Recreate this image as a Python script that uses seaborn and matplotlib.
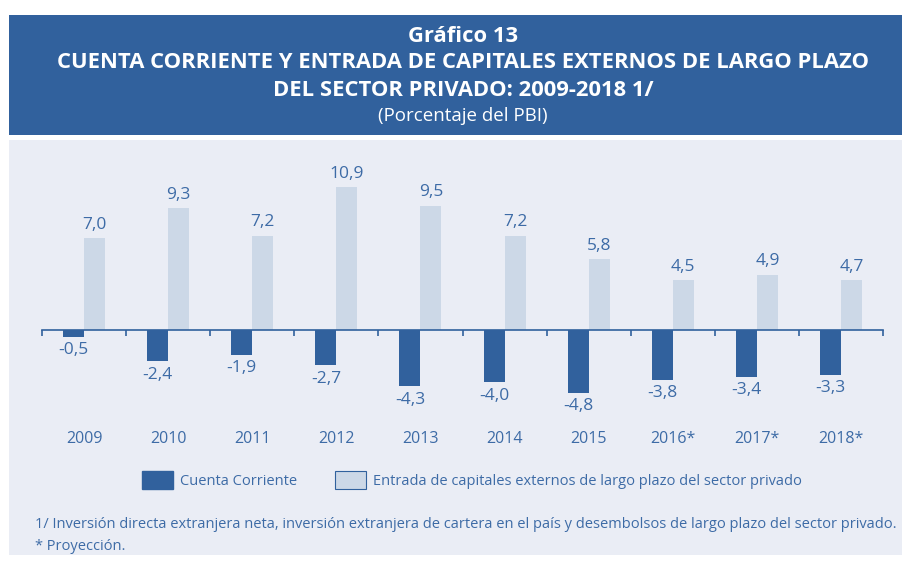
import matplotlib
matplotlib.use("Agg")
import matplotlib.pyplot as plt
from matplotlib.patches import Rectangle, Patch
import numpy as np
import pandas as pd
import seaborn as sns

years = ["2009", "2010", "2011", "2012", "2013", "2014", "2015", "2016*", "2017*", "2018*"]
# printed values
cuenta_corriente = [-0.5, -2.4, -1.9, -2.7, -4.3, -4.0, -4.8, -3.8, -3.4, -3.3]
entrada_capitales = [7.0, 9.3, 7.2, 10.9, 9.5, 7.2, 5.8, 4.5, 4.9, 4.7]
# bar heights as drawn in the original (last light bars are drawn shorter than labelled)
cuenta_corriente_barras = [-0.5, -2.4, -1.9, -2.7, -4.3, -4.0, -4.8, -3.8, -3.55, -3.4]
entrada_capitales_barras = [7.0, 9.3, 7.2, 10.9, 9.5, 7.2, 5.4, 3.8, 4.2, 3.8]
series_names = ["Cuenta Corriente",
                "Entrada de capitales externos de largo plazo del sector privado"]

DARK = "#31619d"
LIGHT = "#ccd8e7"
PANEL = "#eaedf5"
TXT = "#3d6ba6"

df = pd.DataFrame({
    "year": years * 2,
    "value": cuenta_corriente_barras + entrada_capitales_barras,
    "serie": [series_names[0]] * len(years) + [series_names[1]] * len(years),
})

sns.set_theme(style="white")
plt.rcParams["font.family"] = ["Open Sans", "DejaVu Sans"]

fig = plt.figure(figsize=(9.02, 5.64), dpi=100)
W, H = 902, 564

# header band and light panel, kept under the axes
fig.patches.append(Rectangle((9 / W, 1 - 135 / H), 1, 120 / H, transform=fig.transFigure,
                             facecolor=DARK, edgecolor="none", zorder=-10))
fig.patches.append(Rectangle((9 / W, 1 - 555 / H), 1, 415 / H, transform=fig.transFigure,
                             facecolor=PANEL, edgecolor="none", zorder=-10))

cx = 463 / W
fig.text(cx, 1 - 37 / H, "Gráfico 13", ha="center", va="center", color="white",
         fontsize=15.8, fontweight="bold")
fig.text(cx, 1 - 63 / H, "CUENTA CORRIENTE Y ENTRADA DE CAPITALES EXTERNOS DE LARGO PLAZO",
         ha="center", va="center", color="white", fontsize=15.8, fontweight="bold")
fig.text(cx, 1 - 90 / H, "DEL SECTOR PRIVADO: 2009-2018 1/", ha="center", va="center",
         color="white", fontsize=15.8, fontweight="bold")
fig.text(cx, 1 - 116 / H, "(Porcentaje del PBI)", ha="center", va="center",
         color="white", fontsize=13.5)

ax = fig.add_axes([42 / W, 1 - 421.7 / H, 841 / W, 262 / H])
ax.set_facecolor("none")

sns.barplot(data=df, x="year", y="value", hue="serie", palette=[DARK, LIGHT],
            width=0.5, saturation=1, linewidth=0, legend=False, ax=ax)

ax.set_xlim(-0.5, len(years) - 0.5)
ax.set_ylim(-7, 13)
ax.set_xlabel("")
ax.set_ylabel("")
ax.set_yticks([])
for s in ["top", "right", "left"]:
    ax.spines[s].set_visible(False)
ax.spines["bottom"].set_position(("data", 0))
ax.spines["bottom"].set_color(DARK)
ax.spines["bottom"].set_linewidth(1.2)
ax.spines["bottom"].set_zorder(3)

# year labels at category centres, small ticks at category boundaries
ax.set_xticks(np.arange(len(years)), years)
ax.set_xticks(np.arange(len(years) + 1) - 0.5, minor=True)
ax.tick_params(axis="x", which="major", length=0, pad=73, labelsize=11.5, labelcolor=TXT)
ax.tick_params(axis="x", which="minor", length=4, width=1.2, color=DARK, direction="out", bottom=True)

def fmt(v):
    return f"{v:.1f}".replace(".", ",")

for cont, vals in zip(ax.containers, [cuenta_corriente, entrada_capitales]):
    ax.bar_label(cont, labels=[fmt(v) for v in vals], padding=4,
                 color=TXT, fontsize=12.5)

handles = [Patch(facecolor=DARK, edgecolor=DARK), Patch(facecolor=LIGHT, edgecolor=DARK, linewidth=0.8)]
fig.legend(handles, series_names, loc="center", bbox_to_anchor=(472 / W, 1 - 480 / H),
           ncol=2, frameon=False, fontsize=10.5, labelcolor=TXT, handlelength=2.1,
           handleheight=1.5, handletextpad=0.5, columnspacing=2.6)

fig.text(35 / W, 1 - 525 / H,
         "1/ Inversión directa extranjera neta, inversión extranjera de cartera en el país "
         "y desembolsos de largo plazo del sector privado.",
         ha="left", va="center", color=TXT, fontsize=10.5)
fig.text(35 / W, 1 - 546 / H, "* Proyección.", ha="left", va="center", color=TXT, fontsize=10.5)

fig.savefig("out.png", dpi=100)
